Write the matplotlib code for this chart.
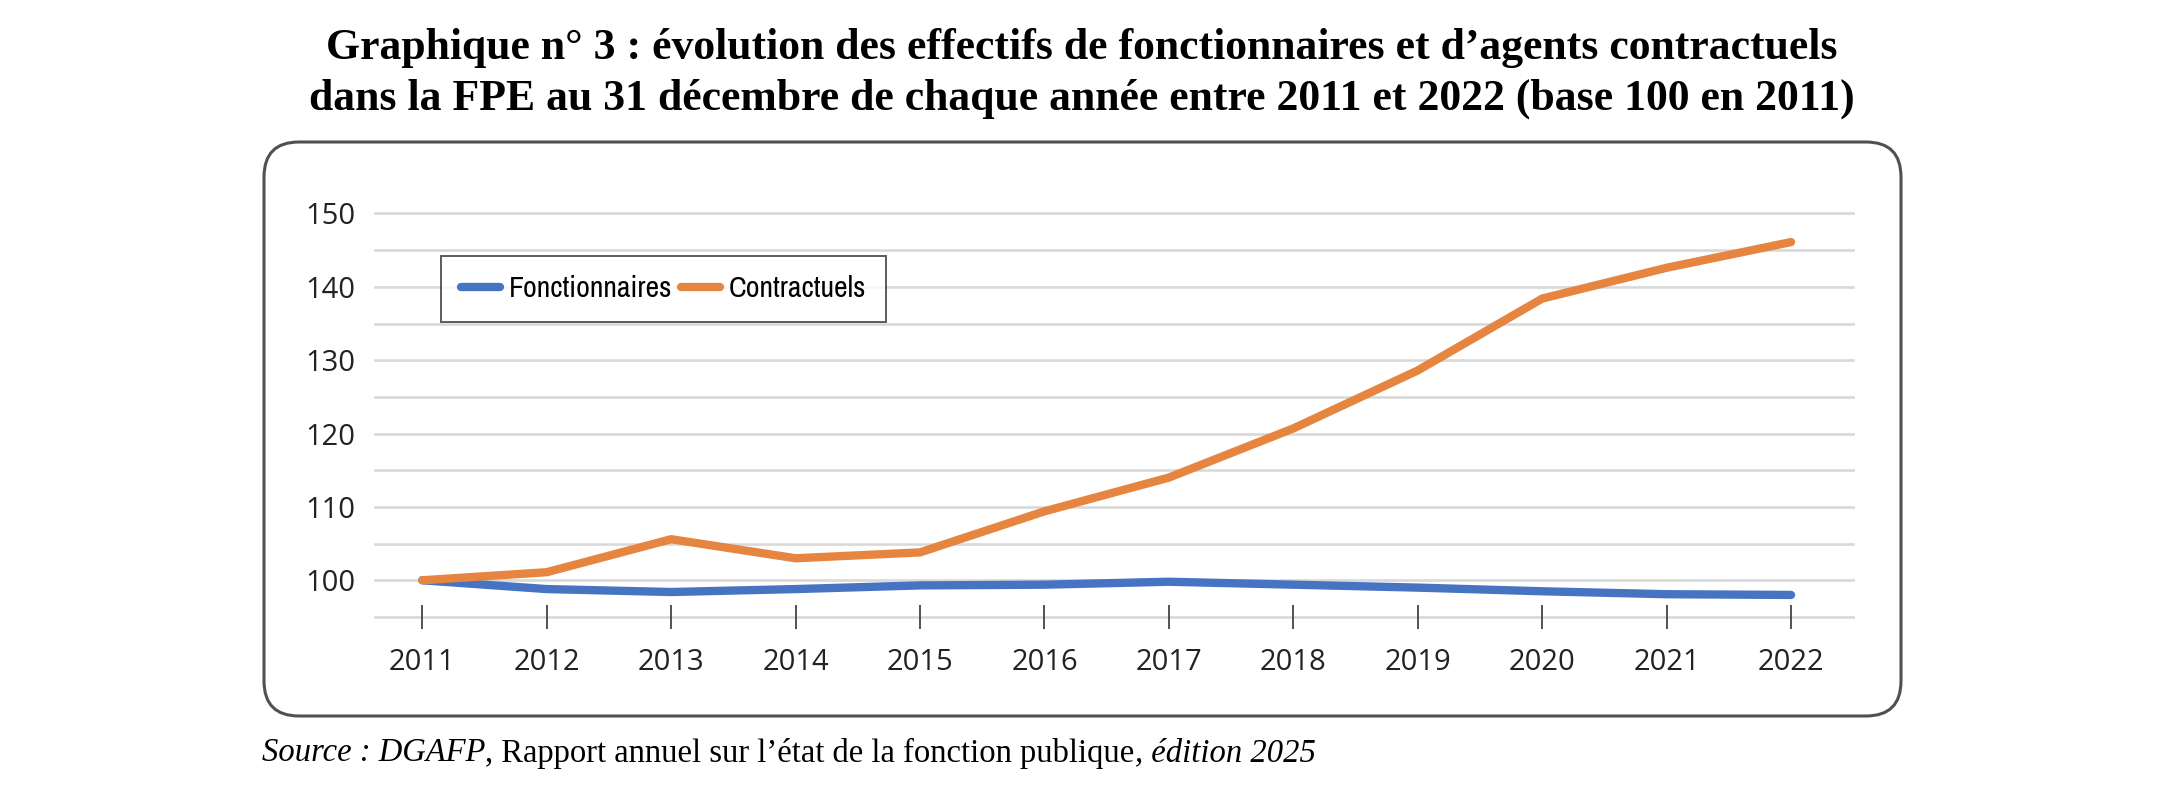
import matplotlib
matplotlib.use("Agg")
import matplotlib.pyplot as plt
from matplotlib.patches import FancyBboxPatch
from matplotlib import font_manager

# Data (base 100 en 2011)
years = ["2011", "2012", "2013", "2014", "2015", "2016",
         "2017", "2018", "2019", "2020", "2021", "2022"]
fonctionnaires = [100.0, 98.8, 98.4, 98.8, 99.3, 99.4,
                  99.8, 99.4, 99.0, 98.5, 98.1, 98.0]
contractuels = [100.0, 101.1, 105.6, 103.0, 103.8, 109.4,
                114.0, 120.7, 128.6, 138.4, 142.6, 146.1]
ytick_values = [100, 110, 120, 130, 140, 150]

title_lines = [
    "Graphique n° 3 : évolution des effectifs de fonctionnaires et d’agents contractuels",
    "dans la FPE au 31 décembre de chaque année entre 2011 et 2022 (base 100 en 2011)",
]

# legend text is narrow (Arial Narrow-like); tick labels are a regular sans
available = sorted({f.name for f in font_manager.fontManager.ttflist})
narrow = [n for n in available if "Narrow" in n or "Condensed" in n]
legend_font = narrow[0] if narrow else "Liberation Sans"
tick_font = "Open Sans"

BLUE = "#4773c3"
ORANGE = "#e5853f"
GRID = "#d9d9d9"

fig = plt.figure(figsize=(21.6, 7.93), dpi=100)

# rounded frame around the chart (in inches)
frame = FancyBboxPatch((2.64, 0.77), 16.37, 5.74,
                       boxstyle="round,pad=0,rounding_size=0.35",
                       transform=fig.dpi_scale_trans, zorder=-5,
                       facecolor="none", edgecolor="#505050", linewidth=2.2)
fig.patches.append(frame)

ax = fig.add_axes([0.1736, 0.222, 0.6844, 0.5088])
x = list(range(len(years)))
ax.plot(x, fonctionnaires, color=BLUE, linewidth=6, label="Fonctionnaires",
        solid_capstyle="round", solid_joinstyle="round", zorder=3)
ax.plot(x, contractuels, color=ORANGE, linewidth=6, label="Contractuels",
        solid_capstyle="round", solid_joinstyle="round", zorder=4)

ax.set_xlim(-0.38, 11.5)
ax.set_ylim(95, 150)
for v in range(95, 151, 5):
    ax.axhline(v, color=GRID, linewidth=1.9, zorder=1, clip_on=False)

ax.set_xticks(x)
ax.set_xticklabels(years, fontfamily=tick_font, fontsize=21, color="#222222")
ax.set_yticks(ytick_values)
ax.set_yticklabels([str(v) for v in ytick_values], fontfamily=tick_font,
                   fontsize=21, color="#222222")
ax.tick_params(axis="x", direction="inout", length=17, width=1.3,
               color="#444444", pad=14)
ax.tick_params(axis="y", length=0, pad=14)
for s in ax.spines.values():
    s.set_visible(False)
ax.set_facecolor("none")

leg = ax.legend(loc="upper left", bbox_to_anchor=(0.045, 0.895), ncol=2,
                prop={"family": legend_font, "size": 21.5}, frameon=True,
                fancybox=False, edgecolor="#333333", handlelength=1.3,
                handletextpad=0.3, columnspacing=0.3, borderpad=0.65,
                borderaxespad=0)
leg.get_frame().set_linewidth(1.4)
for line in leg.get_lines():
    line.set_linewidth(6)
    line.set_solid_capstyle("round")

# title, two centred bold serif lines
fig.text(0.501, 0.94, title_lines[0], ha="center", va="center",
         fontfamily="Liberation Serif", fontweight="bold", fontsize=31.5)
fig.text(0.501, 0.876, title_lines[1], ha="center", va="center",
         fontfamily="Liberation Serif", fontweight="bold", fontsize=31.5)

# source line mixing italic and roman pieces
pieces = [("Source : DGAFP", "italic"),
          (", Rapport annuel sur l’état de la fonction publique", "normal"),
          (", édition 2025", "italic")]
fig.canvas.draw()
renderer = fig.canvas.get_renderer()
xpos = 262
for txt, style in pieces:
    t = fig.text(xpos / 2160, 1 - 753 / 793, txt, ha="left", va="center",
                 fontfamily="Liberation Serif", fontstyle=style, fontsize=23.5)
    xpos += t.get_window_extent(renderer).width

fig.savefig("out.png", dpi=100, facecolor="white")
